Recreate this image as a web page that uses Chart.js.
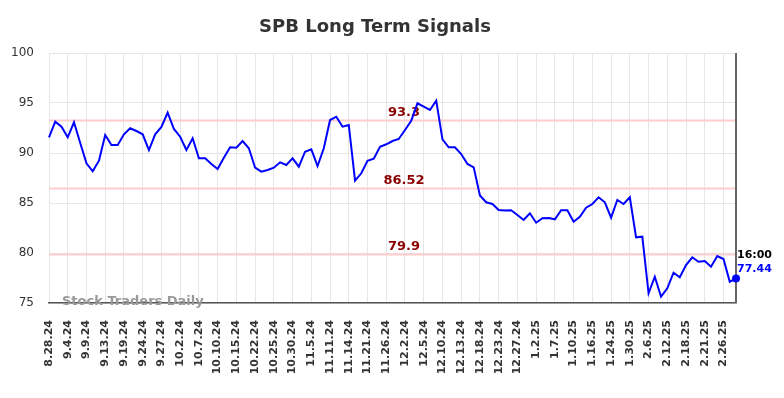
<!DOCTYPE html>
<html lang="en">
<head>
    <meta charset="UTF-8">
    <title>SPB Long Term Signals</title>
    <script src="https://cdn.jsdelivr.net/npm/chart.js@4.4.0/dist/chart.umd.min.js"></script>
    <style>
        html, body { margin: 0; padding: 0; background: #fff; }
        #wrap { width: 784px; height: 398px; }
    </style>
</head>
<body>
<div id="wrap"><canvas id="myChart" width="784" height="398"></canvas></div>
<script>
// tick labels, one every 3 points
var tickLabels = ['8.28.24','9.4.24','9.9.24','9.13.24','9.19.24','9.24.24','9.27.24','10.2.24','10.7.24',
  '10.10.24','10.15.24','10.22.24','10.25.24','10.30.24','11.5.24','11.11.24','11.14.24','11.21.24',
  '11.26.24','12.2.24','12.5.24','12.10.24','12.13.24','12.18.24','12.23.24','12.27.24','1.2.25',
  '1.7.25','1.10.25','1.16.25','1.24.25','1.30.25','2.6.25','2.12.25','2.18.25','2.21.25','2.26.25'];

// closing prices
var prices = [91.57,93.13,92.63,91.57,93.07,91.0,88.97,88.17,89.23,91.8,
  90.8,90.8,91.87,92.47,92.2,91.87,90.3,91.87,92.6,94.03,
  92.4,91.63,90.3,91.47,89.47,89.47,88.9,88.4,89.53,90.57,
  90.53,91.2,90.47,88.53,88.13,88.3,88.53,89.07,88.8,89.47,
  88.63,90.13,90.37,88.7,90.47,93.3,93.63,92.63,92.8,87.23,
  87.97,89.23,89.43,90.63,90.87,91.2,91.4,92.3,93.23,94.97,
  94.63,94.3,95.23,91.37,90.57,90.57,89.9,88.9,88.57,85.75,
  85.07,84.9,84.3,84.25,84.27,83.8,83.3,83.97,83.03,83.47,
  83.5,83.37,84.27,84.27,83.13,83.63,84.53,84.9,85.57,85.07,
  83.53,85.3,84.9,85.57,81.57,81.63,75.97,77.63,75.63,76.47,
  78.03,77.57,78.8,79.57,79.13,79.2,78.63,79.7,79.4,77.13,
  77.44];

var signalLevels = [93.3, 86.52, 79.9];
var lastTime = '16:00';

var labels = [];
for (var i = 0; i < prices.length; i++) {
  labels.push(i % 3 === 0 ? tickLabels[i / 3] : '');
}

var extras = {
  id: 'extras',
  beforeDatasetsDraw: function(chart) {
    var c = chart.ctx, a = chart.chartArea, y = chart.scales.y;
    c.save();
    c.strokeStyle = '#ffcccc';
    c.lineWidth = 2;
    signalLevels.forEach(function(v) {
      var py = Math.round(y.getPixelForValue(v)) + 0.5;
      c.beginPath(); c.moveTo(a.left, py); c.lineTo(a.right, py); c.stroke();
    });
    c.fillStyle = '#8b0000';
    c.font = 'bold 13px "DejaVu Sans"';
    c.textAlign = 'center';
    c.textBaseline = 'bottom';
    signalLevels.forEach(function(v) {
      c.fillText(String(v), 404, y.getPixelForValue(v) - 1);
    });
    // watermark
    c.fillStyle = '#999';
    c.font = 'bold 13px "DejaVu Sans"';
    c.textAlign = 'left';
    c.textBaseline = 'middle';
    c.fillText('Stock Traders Daily', 62, a.bottom - 1);
    c.restore();
  },
  afterDraw: function(chart) {
    var c = chart.ctx, a = chart.chartArea, y = chart.scales.y, x = chart.scales.x;
    c.save();
    // title
    c.fillStyle = '#333';
    c.font = 'bold 18px "DejaVu Sans"';
    c.textAlign = 'center';
    c.textBaseline = 'middle';
    c.fillText('SPB Long Term Signals', 375, 27);
    // right border
    c.strokeStyle = '#666';
    c.lineWidth = 2;
    c.beginPath(); c.moveTo(a.right, a.top); c.lineTo(a.right, a.bottom); c.stroke();
    // last point
    var last = prices.length - 1;
    var px = x.getPixelForValue(last), py = y.getPixelForValue(prices[last]);
    c.fillStyle = '#0000ff';
    c.beginPath(); c.arc(px, py, 4, 0, Math.PI * 2); c.fill();
    c.font = 'bold 11px "DejaVu Sans"';
    c.textAlign = 'left';
    c.fillStyle = '#000';
    c.fillText(lastTime, px + 1, py - 23);
    c.fillStyle = '#0000ff';
    c.fillText(prices[last].toFixed(2), px + 1, py - 9);
    c.restore();
  }
};

var ctx = document.getElementById('myChart').getContext('2d');
var chart = new Chart(ctx, {
  type: 'line',
  data: {
    labels: labels,
    datasets: [{
      label: 'SPB',
      data: prices,
      borderColor: '#0000ff',
      borderWidth: 2,
      pointRadius: 0,
      tension: 0,
      fill: false
    }]
  },
  options: {
    responsive: false,
    animation: false,
    layout: { padding: { top: 53, right: 48, left: 0, bottom: 0 } },
    plugins: { legend: { display: false }, tooltip: { enabled: false } },
    scales: {
      x: {
        offset: false,
        grid: {
          drawTicks: false,
          color: function(c) { return c.index % 3 === 0 ? '#e6e6e6' : 'rgba(0,0,0,0)'; }
        },
        border: { color: '#555', width: 1.5 },
        ticks: {
          autoSkip: false, maxRotation: 90, minRotation: 90, padding: 17,
          color: '#333', font: { family: 'DejaVu Sans', size: 11, weight: 'bold' }
        },
        afterFit: function(s) { s.height = 95; }
      },
      y: {
        min: 75, max: 100,
        grid: { drawTicks: false, color: '#e6e6e6' },
        border: { display: false },
        ticks: { stepSize: 5, padding: 15, color: '#333', font: { family: 'DejaVu Sans', size: 12 } },
        afterFit: function(s) { s.width = 49; }
      }
    }
  },
  plugins: [extras]
});
</script>
</body>
</html>
